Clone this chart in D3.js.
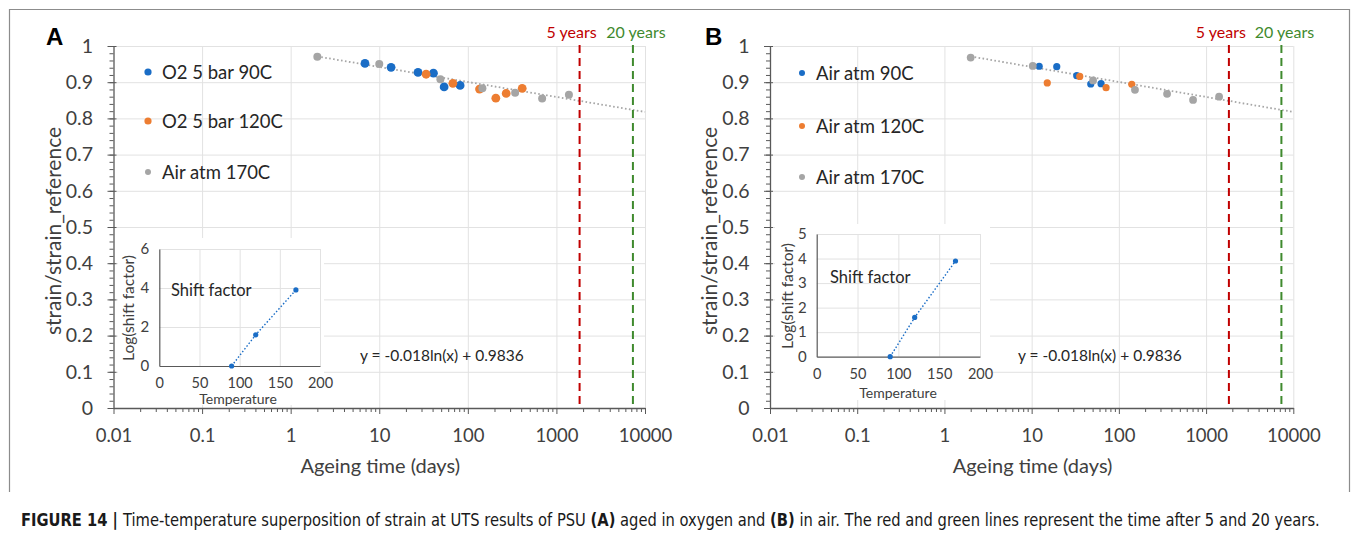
<!DOCTYPE html>
<html>
<head>
<meta charset="utf-8">
<script src="https://cdn.jsdelivr.net/npm/d3@7"></script>
<style>
  body { margin: 0; background: #fff; }
  svg { display: block; font-family: Lato, "Open Sans", sans-serif; }
</style>
</head>
<body>
<svg width="1355" height="540"></svg>
<script>
// ---- data ----
var tickDays = [0.01, 0.1, 1, 10, 100, 1000, 10000];
var tickDayLabels = ["0.01", "0.1", "1", "10", "100", "1000", "10000"];
var tickRatio = [0, 0.1, 0.2, 0.3, 0.4, 0.5, 0.6, 0.7, 0.8, 0.9, 1];
var tickRatioLabels = ["0", "0.1", "0.2", "0.3", "0.4", "0.5", "0.6", "0.7", "0.8", "0.9", "1"];

// panel A : oxygen
var oxy90Days = [6.9, 13.6, 27.4, 40.9, 54, 81.8];
var oxy90Ratio = [0.952, 0.941, 0.927, 0.925, 0.887, 0.891];
var oxy120Days = [33.8, 67.8, 135.5, 207, 271, 411];
var oxy120Ratio = [0.922, 0.897, 0.881, 0.856, 0.869, 0.883];
var air170DaysA = [2, 10, 49, 146, 342, 690, 1384];
var air170RatioA = [0.970, 0.950, 0.908, 0.883, 0.871, 0.855, 0.865];

// panel B : air
var air90Days = [12.2, 19.4, 32.9, 47.6, 62.5];
var air90Ratio = [0.944, 0.943, 0.918, 0.895, 0.896];
var air120Days = [15.1, 35.6, 71.3, 140.6];
var air120Ratio = [0.898, 0.916, 0.885, 0.894];
var air170DaysB = [2, 10.3, 50.6, 153, 357, 709, 1410];
var air170RatioB = [0.968, 0.945, 0.905, 0.879, 0.868, 0.851, 0.860];

// fitted trend shown on both panels
var trendSlope = -0.018, trendIntercept = 0.9836;
var trendDays = [2, 10000];
var trendLabel = "y = -0.018ln(x) + 0.9836";

// 5 and 20 years marks
var yearCounts = [5, 20];
var yearLabels = ["5 years", "20 years"];

// shift factor insets
var shiftTemp = [90, 120, 170];
var shiftLogA = [0, 1.6, 3.9];
var shiftLogB = [0, 1.6, 3.9];
var insetTempTicks = [0, 50, 100, 150, 200];
var insetLogTicksA = [0, 2, 4, 6];
var insetLogTicksB = [0, 1, 2, 3, 4, 5];

var blue = "#1a6dc6", orange = "#ed7d31", grey = "#a5a5a5";
var red = "#c00000", green = "#3f8a2e";
var textCol = "#404040", axisCol = "#595959", gridCol = "#e2e2e2";

var svg = d3.select("svg");

// figure frame
svg.append("path")
    .attr("d", "M9.5,492 V9.5 H1349.5 V492")
    .attr("fill", "none").attr("stroke", "#8c8c8c").attr("stroke-width", 1.2);

function drawPanel(p) {
  var x = d3.scaleLog().domain([0.01, 10000]).range([p.left, p.right]);
  var y = d3.scaleLinear().domain([0, 1]).range([p.bottom, p.top]);
  var g = svg.append("g");

  // grid
  g.append("g")
      .attr("transform", "translate(0," + p.bottom + ")")
      .call(d3.axisBottom(x).tickValues(tickDays.slice(1)).tickSize(-(p.bottom - p.top)).tickFormat(""))
      .call(function(s) { s.select(".domain").remove(); s.selectAll("line").attr("stroke", gridCol); });
  g.append("g")
      .attr("transform", "translate(" + p.left + ",0)")
      .call(d3.axisLeft(y).tickValues(tickRatio.slice(1)).tickSize(-(p.right - p.left)).tickFormat(""))
      .call(function(s) { s.select(".domain").remove(); s.selectAll("line").attr("stroke", gridCol); });

  // minor ticks
  var minorX = x.ticks().filter(function(d) { return tickDays.indexOf(d) < 0; });
  g.append("g")
      .attr("transform", "translate(0," + p.bottom + ")")
      .call(d3.axisBottom(x).tickValues(minorX).tickSize(4).tickFormat(""))
      .call(function(s) { s.select(".domain").remove(); s.selectAll("line").attr("stroke", axisCol); });
  var minorY = d3.range(0, 51).map(function(i) { return i / 50; });
  g.append("g")
      .attr("transform", "translate(" + p.left + ",0)")
      .call(d3.axisLeft(y).tickValues(minorY).tickSize(4).tickFormat(""))
      .call(function(s) { s.select(".domain").remove(); s.selectAll("line").attr("stroke", axisCol); });

  // main axes
  g.append("g")
      .attr("transform", "translate(0," + p.bottom + ")")
      .call(d3.axisBottom(x).tickValues(tickDays).tickSizeInner(6).tickSizeOuter(0).tickPadding(15)
        .tickFormat(function(d, i) { return tickDayLabels[i]; }))
      .call(function(s) {
        s.select(".domain").attr("stroke", axisCol).attr("stroke-width", 1.3);
        s.selectAll("line").attr("stroke", axisCol);
        s.selectAll("text").attr("font-family", "Lato, sans-serif").attr("font-size", 18.5).attr("fill", textCol);
      });
  g.append("g")
      .attr("transform", "translate(" + p.left + ",0)")
      .call(d3.axisLeft(y).tickValues(tickRatio).tickSizeInner(6).tickSizeOuter(0).tickPadding(14.5)
        .tickFormat(function(d, i) { return tickRatioLabels[i]; }))
      .call(function(s) {
        s.select(".domain").attr("stroke", axisCol).attr("stroke-width", 1.3);
        s.selectAll("line").attr("stroke", axisCol).attr("x2", 3).attr("x1", -6);
        s.selectAll("text").attr("font-family", "Lato, sans-serif").attr("font-size", 19.5).attr("fill", textCol);
      });

  // axis titles
  g.append("text")
      .attr("x", (p.left + p.right) / 2 + 1).attr("y", 473)
      .attr("text-anchor", "middle").attr("font-size", 20).attr("fill", textCol)
      .text("Ageing time (days)");
  g.append("text")
      .attr("transform", "translate(" + (p.left - 53) + ",231) rotate(-90)")
      .attr("text-anchor", "middle").attr("font-size", 21).attr("fill", textCol)
      .text("strain/strain_reference");

  // panel letter
  svg.append("text")
      .attr("x", p.letterX).attr("y", 45)
      .attr("font-family", "Liberation Sans, Arial, sans-serif").attr("font-weight", "bold")
      .attr("font-size", 24).attr("fill", "#000")
      .text(p.letter);

  // trend line
  var trendPts = d3.range(0, 41).map(function(i) {
    var lx = Math.log10(trendDays[0]) + i / 40 * (Math.log10(trendDays[1]) - Math.log10(trendDays[0]));
    var d = Math.pow(10, lx);
    return [d, trendSlope * Math.log(d) + trendIntercept];
  });
  g.append("path")
      .attr("d", d3.line().x(function(d) { return x(d[0]); }).y(function(d) { return y(d[1]); })(trendPts))
      .attr("fill", "none").attr("stroke", "#a6a6a6").attr("stroke-width", 1.8)
      .attr("stroke-dasharray", "1.6,2.4");

  g.append("text")
      .attr("x", p.eqX).attr("y", 361)
      .attr("font-size", 15.5).attr("fill", "#262626")
      .text(trendLabel);

  // years lines
  yearCounts.forEach(function(n, i) {
    var xv = x(n * 365.25);
    var col = i === 0 ? red : green;
    g.append("line")
        .attr("x1", xv).attr("x2", xv).attr("y1", y(1) - 1).attr("y2", p.bottom)
        .attr("stroke", col).attr("stroke-width", 2).attr("stroke-dasharray", "8,5");
    g.append("text")
        .attr("x", i === 0 ? xv - 8 : xv + 3).attr("y", 38)
        .attr("text-anchor", "middle").attr("font-size", 16).attr("fill", col)
        .text(yearLabels[i]);
  });

  // points
  p.series.forEach(function(s) {
    g.append("g").selectAll("circle")
      .data(s.days.map(function(d, i) { return [d, s.ratio[i]]; }))
      .enter().append("circle")
        .attr("cx", function(d) { return x(d[0]); })
        .attr("cy", function(d) { return y(d[1]); })
        .attr("r", s.r)
        .attr("fill", s.color);
  });

  // legend
  p.series.forEach(function(s, i) {
    var ly = p.legendY[i];
    g.append("circle").attr("cx", p.legendX).attr("cy", ly).attr("r", s.lr).attr("fill", s.color);
    g.append("text").attr("x", p.legendX + 14).attr("y", ly + 6.5)
        .attr("font-size", 18.5).attr("fill", "#262626").text(s.name);
  });

  drawInset(p.inset);
}

function drawInset(q) {
  var g = svg.append("g");
  g.append("rect")
      .attr("x", q.box[0]).attr("y", q.box[1]).attr("width", q.box[2]).attr("height", q.box[3])
      .attr("fill", "#fff");
  var x = d3.scaleLinear().domain([0, 200]).range([q.left, q.right]);
  var y = d3.scaleLinear().domain([0, q.yTicks[q.yTicks.length - 1]]).range([q.bottom, q.top]);

  g.append("g")
      .attr("transform", "translate(0," + q.bottom + ")")
      .call(d3.axisBottom(x).tickValues(insetTempTicks.slice(1)).tickSize(-(q.bottom - q.top)).tickFormat(""))
      .call(function(s) { s.select(".domain").remove(); s.selectAll("line").attr("stroke", gridCol); });
  g.append("g")
      .attr("transform", "translate(" + q.left + ",0)")
      .call(d3.axisLeft(y).tickValues(q.yTicks.slice(1)).tickSize(-(q.right - q.left)).tickFormat(""))
      .call(function(s) { s.select(".domain").remove(); s.selectAll("line").attr("stroke", gridCol); });

  g.append("g")
      .attr("transform", "translate(0," + q.bottom + ")")
      .call(d3.axisBottom(x).tickValues(insetTempTicks).tickSize(0).tickPadding(q.xPad).tickFormat(d3.format("d")))
      .call(function(s) {
        s.select(".domain").attr("stroke", axisCol).attr("stroke-width", 1.2);
        s.selectAll("text").attr("font-family", "Lato, sans-serif").attr("font-size", 14.5).attr("fill", textCol);
      });
  g.append("g")
      .attr("transform", "translate(" + q.left + ",0)")
      .call(d3.axisLeft(y).tickValues(q.yTicks).tickSize(0).tickPadding(q.yPad).tickFormat(d3.format("d")))
      .call(function(s) {
        s.select(".domain").attr("stroke", axisCol).attr("stroke-width", 1.2);
        s.selectAll("text").attr("font-family", "Lato, sans-serif").attr("font-size", 15).attr("fill", textCol);
      });

  g.append("text")
      .attr("x", q.tempX).attr("y", q.tempY).attr("text-anchor", "middle")
      .attr("font-size", 14).attr("fill", textCol).text("Temperature");
  g.append("text")
      .attr("transform", "translate(" + q.logX + "," + q.logY + ") rotate(-90)")
      .attr("text-anchor", "middle").attr("font-size", 15.5).attr("fill", textCol)
      .text("Log(shift factor)");
  g.append("text")
      .attr("x", q.labelX).attr("y", q.labelY)
      .attr("font-size", 16.5).attr("fill", "#262626").text("Shift factor");

  var pts = shiftTemp.map(function(t, i) { return [t, q.logs[i]]; });
  g.append("path")
      .attr("d", d3.line().x(function(d) { return x(d[0]); }).y(function(d) { return y(d[1]); })(pts))
      .attr("fill", "none").attr("stroke", blue).attr("stroke-width", 1.4)
      .attr("stroke-dasharray", "1.5,2");
  g.selectAll("circle").data(pts).enter().append("circle")
      .attr("cx", function(d) { return x(d[0]); })
      .attr("cy", function(d) { return y(d[1]); })
      .attr("r", 2.6).attr("fill", blue);
}

drawPanel({
  left: 113.5, right: 645, top: 46, bottom: 408, letter: "A", letterX: 46,
  eqX: 360, legendX: 148, legendY: [72, 121, 172],
  series: [
    { name: "O2 5 bar 90C", days: oxy90Days, ratio: oxy90Ratio, color: blue, r: 4.4, lr: 3.6 },
    { name: "O2 5 bar 120C", days: oxy120Days, ratio: oxy120Ratio, color: orange, r: 4.4, lr: 3.6 },
    { name: "Air atm 170C", days: air170DaysA, ratio: air170RatioA, color: grey, r: 4, lr: 3 }
  ],
  inset: {
    box: [118, 238, 206, 167], left: 159.3, right: 320, top: 249, bottom: 366,
    yTicks: insetLogTicksA, logs: shiftLogA, xPad: 12, yPad: 10,
    tempX: 238, tempY: 404, logX: 134, logY: 308, labelX: 171, labelY: 296
  }
});

drawPanel({
  left: 770, right: 1293.3, top: 46, bottom: 408, letter: "B", letterX: 705,
  eqX: 1018, legendX: 802, legendY: [73, 126, 177],
  series: [
    { name: "Air atm 90C", days: air90Days, ratio: air90Ratio, color: blue, r: 3.6, lr: 3 },
    { name: "Air atm 120C", days: air120Days, ratio: air120Ratio, color: orange, r: 3.6, lr: 3 },
    { name: "Air atm 170C", days: air170DaysB, ratio: air170RatioB, color: grey, r: 3.9, lr: 3 }
  ],
  inset: {
    box: [775, 224, 215, 176], left: 816.7, right: 980, top: 234, bottom: 356.7,
    yTicks: insetLogTicksB, logs: shiftLogB, xPad: 12, yPad: 10,
    tempX: 898, tempY: 398, logX: 793, logY: 296, labelX: 830, labelY: 283
  }
});

// caption, squeezed horizontally to the width of the original
var capG = svg.append("g");
var cap = capG.append("text")
    .attr("x", 0).attr("y", 0)
    .attr("font-family", "'DejaVu Sans Condensed', 'Liberation Sans Narrow', 'Liberation Sans', sans-serif")
    .attr("font-size", 17.5).attr("fill", "#1a1a1a");
cap.append("tspan").attr("font-weight", "bold").text("FIGURE 14 | ");
cap.append("tspan").text("Time-temperature superposition of strain at UTS results of PSU ");
cap.append("tspan").attr("font-weight", "bold").text("(A)");
cap.append("tspan").text(" aged in oxygen and ");
cap.append("tspan").attr("font-weight", "bold").text("(B)");
cap.append("tspan").text(" in air. The red and green lines represent the time after 5 and 20 years.");
var capW = cap.node().getComputedTextLength();
capG.attr("transform", "translate(21,526) scale(" + (1300 / capW) + ",1)");
</script>
</body>
</html>
